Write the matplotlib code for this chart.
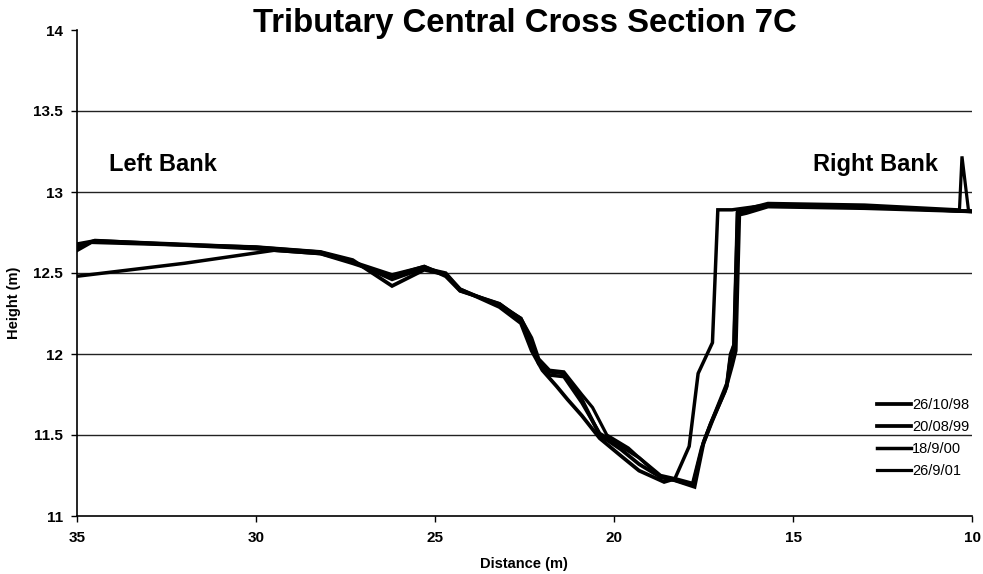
import matplotlib
matplotlib.use("Agg")
import matplotlib.pyplot as plt

# ---- data ----
x_9810 = [35, 34.5, 30, 28.2, 27.3, 26.2, 25.3, 24.7, 24.3, 23.2, 22.6, 22.3, 22.1, 21.8, 21.4,
          20.9, 20.4, 19.8, 19.3, 18.7, 18.3, 17.75, 17.5, 17.25, 16.85, 16.75, 16.65, 16.55,
          16.4, 15.7, 13.0, 10.0]
y_9810 = [12.66, 12.70, 12.65, 12.62, 12.56, 12.48, 12.54, 12.48, 12.39, 12.31, 12.21, 12.06, 11.94,
          11.89, 11.88, 11.72, 11.50, 11.41, 11.32, 11.24, 11.22, 11.18, 11.45, 11.59, 11.80, 11.97,
          12.05, 12.87, 12.88, 12.92, 12.91, 12.88]

x_0899 = [35, 34.6, 30, 28.2, 27.3, 26.2, 25.3, 24.7, 24.3, 23.2, 22.6, 22.3, 22.0, 21.6, 21.3,
          20.9, 20.4, 19.8, 19.3, 18.6, 18.3, 17.8, 17.55, 17.3, 16.9, 16.7, 16.6, 16.5,
          16.3, 15.7, 13.0, 10.0]
y_0899 = [12.64, 12.69, 12.66, 12.63, 12.58, 12.42, 12.52, 12.49, 12.40, 12.29, 12.19, 12.02, 11.90,
          11.80, 11.72, 11.62, 11.48, 11.37, 11.28, 11.21, 11.23, 11.20, 11.42, 11.57, 11.77, 11.93,
          12.02, 12.86, 12.87, 12.91, 12.90, 12.88]

x_0900 = [35, 32, 29.5, 28.2, 27.3, 26.2, 25.3, 24.7, 24.3, 23.2, 22.6, 22.3, 22.1, 21.8, 21.4,
          20.9, 20.4, 19.8, 19.3, 18.7, 18.3, 17.9, 17.65, 17.25, 17.1, 16.7, 15.7, 13.0, 10.0]
y_0900 = [12.48, 12.56, 12.64, 12.62, 12.57, 12.46, 12.53, 12.50, 12.40, 12.30, 12.22, 12.08, 11.95,
          11.87, 11.86, 11.70, 11.51, 11.43, 11.36, 11.25, 11.23, 11.43, 11.88, 12.07, 12.89,
          12.89, 12.92, 12.91, 12.88]

x_0901 = [35, 34.5, 30, 28.2, 27.3, 26.2, 25.3, 24.7, 24.3, 23.2, 22.6, 22.3, 22.1, 21.8, 21.4,
          20.9, 20.6, 20.2, 19.6, 19.0, 18.7, 18.3, 17.8, 17.5, 17.25, 16.85, 16.75, 16.65,
          16.55, 16.4, 15.7, 13.0, 10.35, 10.28, 10.1, 10.0]
y_0901 = [12.68, 12.70, 12.66, 12.63, 12.57, 12.49, 12.54, 12.49, 12.39, 12.31, 12.22, 12.10, 11.97,
          11.90, 11.89, 11.75, 11.67, 11.50, 11.42, 11.30, 11.24, 11.22, 11.19, 11.46, 11.60,
          11.82, 12.00, 12.06, 12.88, 12.89, 12.93, 12.92, 12.89, 13.22, 12.89, 12.88]

series = [
    ("26/10/98", x_9810, y_9810),
    ("20/08/99", x_0899, y_0899),
    ("18/9/00", x_0900, y_0900),
    ("26/9/01", x_0901, y_0901),
]

title = "Tributary Central Cross Section 7C"
xlabel = "Distance (m)"
ylabel = "Height (m)"
xticks = [35, 30, 25, 20, 15, 10]
yticks = [11, 11.5, 12, 12.5, 13, 13.5, 14]
ytick_labels = ["11", "11.5", "12", "12.5", "13", "13.5", "14"]

plt.rcParams['font.family'] = ['Liberation Sans', 'DejaVu Sans']

fig = plt.figure(figsize=(9.83, 5.74), dpi=100)
ax = fig.add_axes([77/983, 1 - 516/574, (972 - 77)/983, (516 - 30)/574])

for yv in [11.5, 12, 12.5, 13, 13.5]:
    ax.axhline(yv, color="#222222", lw=1.0, zorder=1)

lws = [2.7, 2.7, 2.5, 2.3]
for (lab, xs, ys), lw in zip(series, lws):
    ax.plot(xs, ys, color="black", lw=lw, label=lab, zorder=3, solid_joinstyle="miter")

ax.set_xlim(35, 10)
ax.set_ylim(11, 14)
ax.set_xticks(xticks)
ax.set_xticklabels([str(t) for t in xticks], fontsize=11, fontweight="bold")
ax.set_yticks(yticks)
ax.set_yticklabels(ytick_labels, fontsize=11, fontweight="bold")
ax.tick_params(axis="x", direction="out", length=4, width=1, pad=7)
ax.tick_params(axis="y", direction="out", length=4, width=1, pad=6)

for s in ["top", "right"]:
    ax.spines[s].set_visible(False)
ax.spines["left"].set_linewidth(1.2)
ax.spines["bottom"].set_linewidth(1.2)

fig.text(525/983, 1 - 32/574, title, ha="center", va="baseline",
         fontsize=23.7, fontweight="bold")
fig.text(524/983, 1 - 564/574, xlabel, ha="center", va="center",
         fontsize=10.5, fontweight="bold")
fig.text(14/983, 1 - 303/574, ylabel, ha="center", va="center", rotation=90,
         fontsize=10.5, fontweight="bold")

ax.text(34.1, 13.17, "Left Bank", fontsize=17, fontweight="bold", ha="left", va="center")
ax.text(10.95, 13.17, "Right Bank", fontsize=17, fontweight="bold", ha="right", va="center")

leg = ax.legend(loc="upper left", bbox_to_anchor=(870/983, 1 - 391/574),
                bbox_transform=fig.transFigure, frameon=False, fontsize=10.5,
                handlelength=2.3, handletextpad=0.1, labelspacing=0.55, borderpad=0)

fig.savefig("out.png", dpi=100, facecolor="white")
